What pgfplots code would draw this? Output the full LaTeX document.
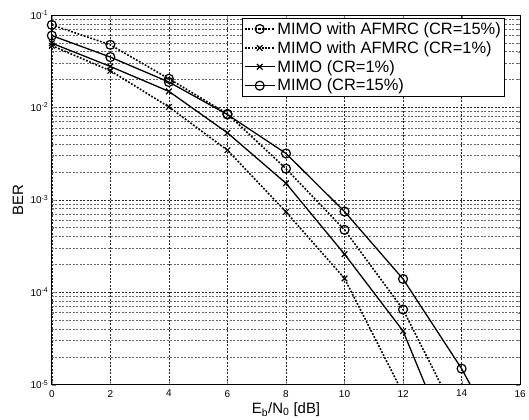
\documentclass[border=0pt]{standalone}
\usepackage{fontspec}
\setmainfont{Liberation Sans}
\usepackage{pgfplots}
\pgfplotsset{compat=1.18}

\begin{document}
\begin{tikzpicture}
\begin{axis}[
scale only axis,width=470pt,height=371pt,
ymode=log,xmin=0,xmax=16,ymin=1e-5,ymax=1e-1,
xtick={0,2,4,6,8,10,12,14,16},
xticklabels={0,2,4,6,8,10,12,14,16},
ytick={1e-5,1e-4,1e-3,1e-2,1e-1},
yticklabels={10\textsuperscript{-5},10\textsuperscript{-4},10\textsuperscript{-3},10\textsuperscript{-2},10\textsuperscript{-1}},
tick label style={font=\fontsize{10}{11}\selectfont},
xticklabel style={yshift=-2pt},
tick align=inside,major tick length=4pt,minor tick length=2.5pt,
xmajorgrids,ymajorgrids,yminorgrids,
major grid style={black!85,dash pattern=on 2pt off 1.5pt,line width=0.55pt},
minor grid style={black!60,dash pattern=on 2pt off 1.5pt,line width=0.5pt},
axis line style={black,line width=0.8pt},
xlabel={E\textsubscript{b}/N\textsubscript{0} [dB]},
ylabel={BER},
label style={font=\fontsize{15}{17}\selectfont},
xlabel style={at={(axis description cs:0.5,0)},anchor=center,yshift=-25pt},
ylabel style={at={(axis description cs:0,0.5)},anchor=center,yshift=34pt},
legend cell align=left,
legend style={at={(1,1)},anchor=north east,xshift=-15pt,yshift=-3pt,
  font=\fontsize{16.5}{18}\selectfont,draw=black,line width=0.8pt,fill=white,
  inner sep=2pt,row sep=1.5pt},
legend image code/.code={\draw[mark repeat=2,mark phase=2] plot coordinates {(0pt,0pt)(15pt,0pt)(30pt,0pt)};},
every axis plot/.append style={black,line width=1.3pt},
]
\addplot[line width=1.6pt,dash pattern=on 1.8pt off 1.6pt,mark=o,mark size=4.5pt,mark options={solid,line width=1.2pt}] coordinates {
(0,0.078)(2,0.0475)(4,0.0204)(6,0.0085)(8,0.00217)(10,4.73e-4)(12,6.5e-5)(14,3.6e-6)};
\addlegendentry{MIMO with AFMRC (CR=15\%)}
\addplot[line width=1.6pt,dash pattern=on 1.8pt off 1.6pt,mark=x,mark size=4pt,mark options={solid,line width=1.2pt}] coordinates {
(0,0.0465)(2,0.0249)(4,0.0101)(6,0.00344)(8,7.4e-4)(10,1.41e-4)(12,8e-6)};
\addlegendentry{MIMO with AFMRC (CR=1\%)}
\addplot[solid,mark=x,mark size=4pt,mark options={solid,line width=1.2pt}] coordinates {
(0,0.0495)(2,0.0277)(4,0.0149)(6,0.0053)(8,0.00151)(10,2.58e-4)(12,3.8e-5)(14,1.1e-6)};
\addlegendentry{MIMO (CR=1\%)}
\addplot[solid,mark=o,mark size=4.5pt,mark options={solid,line width=1.2pt}] coordinates {
(0,0.0598)(2,0.035)(4,0.0188)(6,0.00836)(8,0.00317)(10,7.46e-4)(12,1.39e-4)(14,1.49e-5)(16,1.0e-6)};
\addlegendentry{MIMO (CR=15\%)}
\coordinate (sw) at (rel axis cs:0,0);
\coordinate (ne) at (rel axis cs:1,1);
\end{axis}
\path ([shift={(-52pt,-35pt)}]sw) rectangle ([shift={(7pt,15pt)}]ne);
\end{tikzpicture}
\end{document}
